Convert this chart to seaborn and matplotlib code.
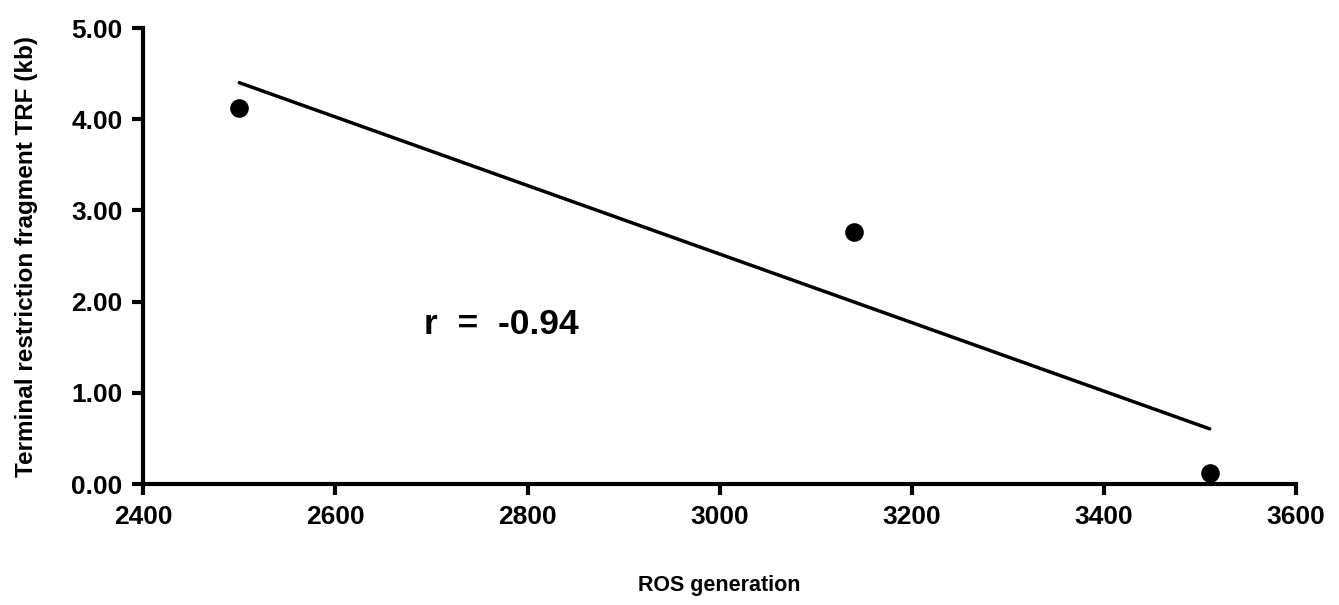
import matplotlib
matplotlib.use("Agg")
import matplotlib.pyplot as plt
import seaborn as sns
import pandas as pd

ros_generation = [2500, 3140, 3510]
trf_kb = [4.12, 2.76, 0.12]
x_ticks = [2400, 2600, 2800, 3000, 3200, 3400, 3600]
y_ticks = [0, 1, 2, 3, 4, 5]

df = pd.DataFrame({"ros": ros_generation, "trf": trf_kb})
r = df["ros"].corr(df["trf"])

sns.set_style("white")
plt.rcParams["font.family"] = ["Liberation Sans", "DejaVu Sans"]
plt.rcParams["font.weight"] = "bold"
plt.rcParams["text.color"] = "black"
plt.rcParams["axes.labelcolor"] = "black"
plt.rcParams["xtick.color"] = "black"
plt.rcParams["ytick.color"] = "black"

fig = plt.figure(figsize=(13.39, 6.05), dpi=100)
ax = fig.add_axes([0.107, 0.2, 0.861, 0.7537])

sns.regplot(data=df, x="ros", y="trf", ci=None, ax=ax,
            scatter_kws={"s": 180, "color": "black", "alpha": 1, "zorder": 3, "linewidths": 0},
            line_kws={"color": "black", "linewidth": 2.5})

ax.set_xlim(2400, 3600)
ax.set_ylim(0, 5)
ax.set_xticks(x_ticks)
ax.set_yticks(y_ticks)
ax.set_yticklabels([f"{v:.2f}" for v in y_ticks])
ax.tick_params(axis="both", direction="out", length=8, width=3, labelsize=19, pad=7,
               left=True, bottom=True, colors="black")
for lab in ax.get_xticklabels() + ax.get_yticklabels():
    lab.set_fontweight("bold")

sns.despine(ax=ax)
for side in ["left", "bottom"]:
    ax.spines[side].set_linewidth(3)
    ax.spines[side].set_color("black")

ax.set_xlabel("ROS generation", fontsize=15.5, fontweight="bold", labelpad=33)
ax.set_ylabel("Terminal restriction fragment TRF (kb)", fontsize=17.5, fontweight="bold", labelpad=24)

ax.text(2692, 1.75, f"r  =  {r:.2f}", fontsize=25.5, fontweight="bold", ha="left", va="center")

fig.savefig("out.png", dpi=100)
